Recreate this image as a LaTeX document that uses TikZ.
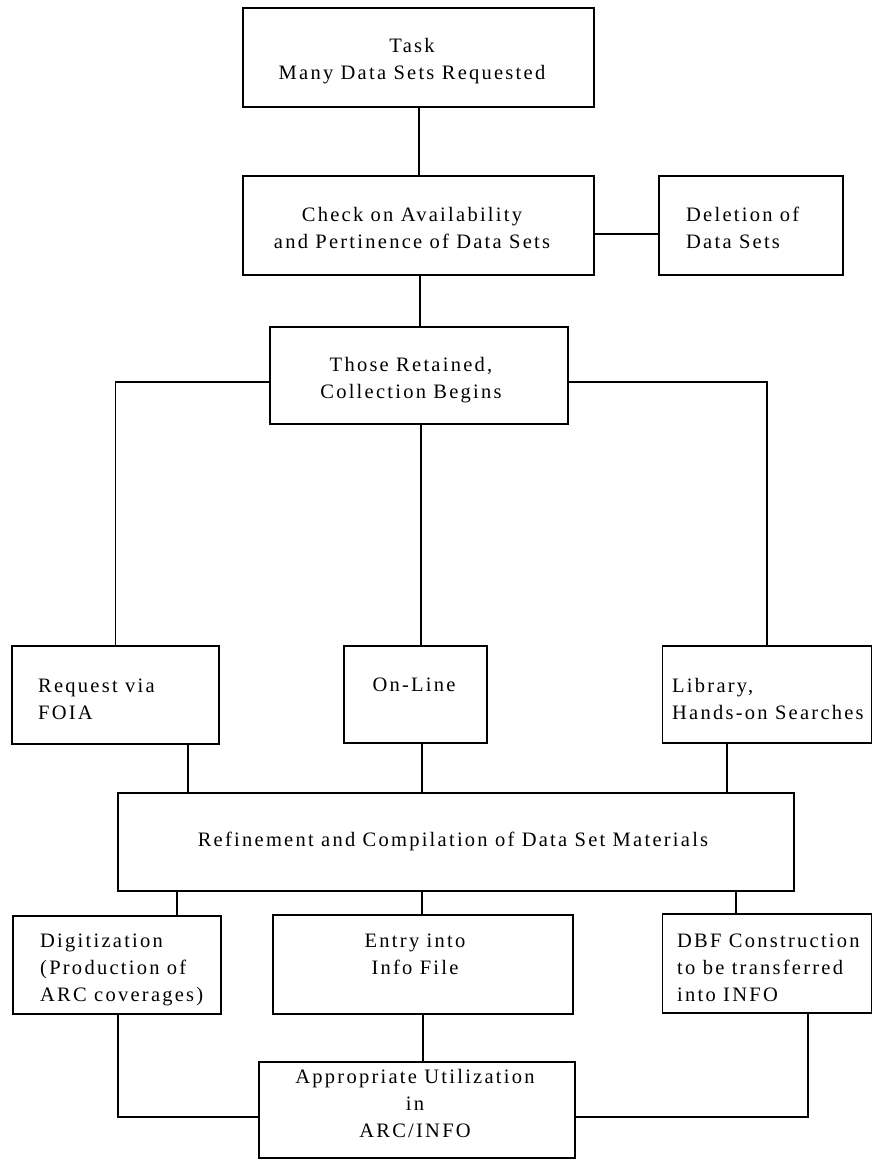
\documentclass[tikz,border=0pt]{standalone}
\usepackage{fontspec}
\newfontfamily\diagfont[LetterSpace=11]{Liberation Serif}
\begin{document}
\begin{tikzpicture}[x=1pt,y=-1pt,
  box/.style={draw,line width=1.1pt,inner sep=0pt,minimum width=#1},
  txt/.style={font=\diagfont\fontsize{20.5}{27}\selectfont,inner sep=0pt,anchor=base},
  ltxt/.style={txt,align=left,anchor=base west},
  ctxt/.style={txt,align=center},
  conn/.style={line width=1.1pt}]
\useasboundingbox (0,0) rectangle (873,1160);
% boxes
\node[box=351pt,minimum height=99pt] (task)   at (418.5,57.5) {};
\node[box=351pt,minimum height=99pt] (check)  at (418.5,225.5) {};
\node[box=184pt,minimum height=99pt] (del)    at (751,225.5) {};
\node[box=298pt,minimum height=97pt] (those)  at (419,375.5) {};
\node[box=207pt,minimum height=98pt] (req)    at (115.5,695) {};
\node[box=143pt,minimum height=97pt] (online) at (415.5,694.5) {};
\node[box=209pt,minimum height=97pt] (lib)    at (767,694.5) {};
\node[box=676pt,minimum height=98pt] (ref)    at (456,842) {};
\node[box=208pt,minimum height=98pt] (dig)    at (117,965) {};
\node[box=300pt,minimum height=99pt] (entry)  at (423,964.5) {};
\node[box=209pt,minimum height=99pt] (dbf)    at (767,963.5) {};
\node[box=316pt,minimum height=96pt] (app)    at (417,1110) {};
% texts (anchor = baseline of last line)
\node[ctxt] (ttask)   at (412,79)  {Task\\Many Data Sets Requested};
\node[ctxt] (tcheck)  at (412,248) {Check on Availability\\and Pertinence of Data Sets};
\node[ltxt] (tdel)    at (686,248) {Deletion of\\Data Sets};
\node[ctxt] (tthose)  at (411,398) {Those Retained,\\Collection Begins};
\node[ltxt] (treq)    at (38,719)  {Request via\\FOIA};
\node[ctxt] (tonline) at (414,691) {On-Line};
\node[ltxt] (tlib)    at (672,719) {Library,\\Hands-on Searches};
\node[ctxt] (tref)    at (453,846) {Refinement and Compilation of Data Set Materials};
\node[ltxt] (tdig)    at (40,1001)  {Digitization\\(Production of\\ARC coverages)};
\node[ctxt] (tentry)  at (415,974) {Entry into\\Info File};
\node[ltxt] (tdbf)    at (677,1001) {DBF Construction\\to be transferred\\into INFO};
\node[ctxt] (tapp)    at (415,1137) {Appropriate Utilization\\in\\ARC/INFO};
% connectors
\draw[conn] (task.south -| 419,0) -- (check.north -| 419,0);
\draw[conn] (check.east |- 0,234) -- (del.west |- 0,234);
\draw[conn] (check.south -| 420,0) -- (those.north -| 420,0);
\draw[conn] (those.west |- 0,382) -| (req.north);
\draw[conn] (those.east |- 0,382) -| (lib.north);
\draw[conn] (those.south -| 421,0) -- (online.north -| 421,0);
\draw[conn] (req.south -| 188,0) -- (ref.north -| 188,0);
\draw[conn] (online.south -| 422,0) -- (ref.north -| 422,0);
\draw[conn] (lib.south -| 727,0) -- (ref.north -| 727,0);
\draw[conn] (ref.south -| 177,0) -- (dig.north -| 177,0);
\draw[conn] (ref.south -| 422,0) -- (entry.north -| 422,0);
\draw[conn] (ref.south -| 736,0) -- (dbf.north -| 736,0);
\draw[conn] (entry.south) -- (app.north -| entry.south);
\draw[conn] (dig.south -| 118,0) |- (app.west |- 0,1117);
\draw[conn] (dbf.south -| 808,0) |- (app.east |- 0,1117);
\end{tikzpicture}
\end{document}
